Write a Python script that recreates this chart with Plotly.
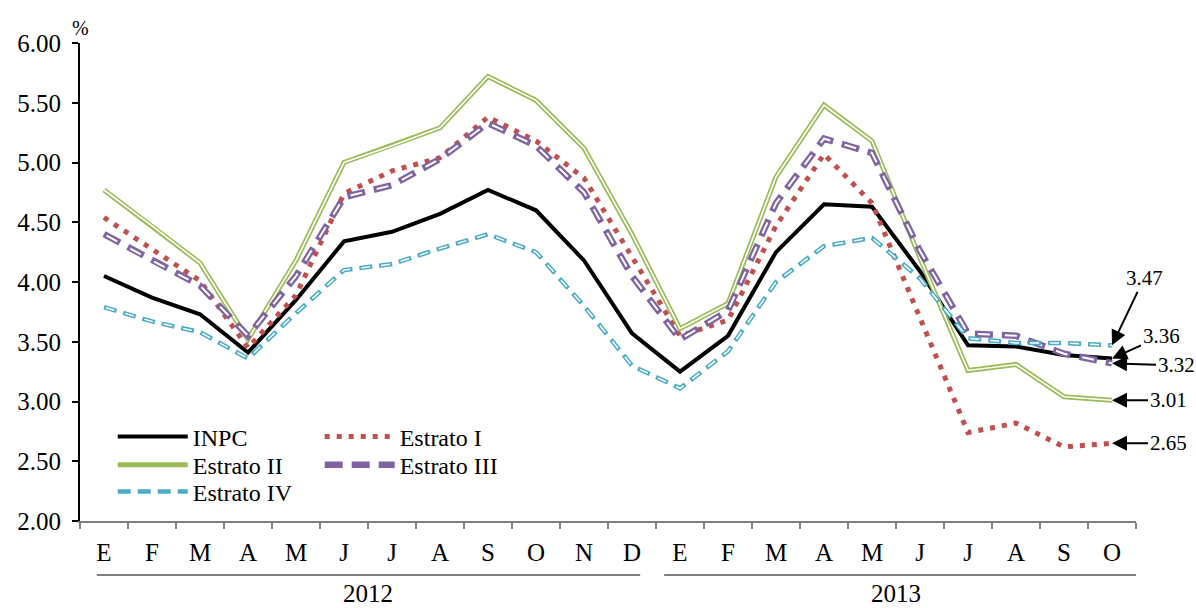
import plotly.graph_objects as go

# Monthly labels, Jan 2012 - Oct 2013
months = ["E", "F", "M", "A", "M", "J", "J", "A", "S", "O", "N", "D",
          "E", "F", "M", "A", "M", "J", "J", "A", "S", "O"]
years = ["2012", "2013"]

# Annual inflation (%) by series
inpc = [4.05, 3.87, 3.73, 3.41, 3.85, 4.34, 4.42, 4.57, 4.77, 4.60, 4.18, 3.57,
        3.25, 3.55, 4.25, 4.65, 4.63, 4.09, 3.47, 3.46, 3.39, 3.36]
estrato_1 = [4.54, 4.28, 4.01, 3.45, 3.89, 4.74, 4.93, 5.04, 5.38, 5.18, 4.87, 4.21,
             3.55, 3.68, 4.47, 5.07, 4.66, 3.70, 2.74, 2.82, 2.62, 2.65]
estrato_2 = [4.77, 4.47, 4.16, 3.52, 4.18, 5.00, 5.14, 5.29, 5.72, 5.52, 5.12, 4.40,
             3.61, 3.82, 4.88, 5.48, 5.18, 4.20, 3.26, 3.31, 3.04, 3.01]
estrato_3 = [4.40, 4.18, 3.97, 3.55, 4.05, 4.71, 4.81, 5.03, 5.33, 5.14, 4.75, 4.05,
             3.52, 3.76, 4.66, 5.20, 5.08, 4.26, 3.57, 3.55, 3.40, 3.32]
estrato_4 = [3.79, 3.67, 3.58, 3.36, 3.74, 4.10, 4.15, 4.28, 4.40, 4.25, 3.80, 3.30,
             3.11, 3.42, 4.00, 4.30, 4.37, 4.03, 3.53, 3.49, 3.49, 3.47]

# Final-value callouts: (value, x offset px, y offset px)
end_labels = [(3.47, 32, -67), (3.36, 49, -22), (3.32, 64, 2), (3.01, 56, 0), (2.65, 56, 0)]

FONT = "Liberation Serif, Times New Roman, serif"
x = list(range(len(months)))

fig = go.Figure()

# INPC: solid black
fig.add_trace(go.Scatter(x=x, y=inpc, mode="lines", name="INPC",
                         line=dict(color="black", width=4), legend="legend"))
# Estrato I: red dots
fig.add_trace(go.Scatter(x=x, y=estrato_1, mode="lines", name="Estrato I",
                         line=dict(color="#C0504D", width=5, dash="5px,7px"),
                         legend="legend2"))
# Estrato II: green double line (colored stroke with white core)
fig.add_trace(go.Scatter(x=x, y=estrato_2, mode="lines", name="Estrato II",
                         line=dict(color="#9BBB59", width=5), legend="legend3"))
fig.add_trace(go.Scatter(x=x, y=estrato_2, mode="lines", showlegend=False,
                         hoverinfo="skip", line=dict(color="white", width=1.6)))
# Estrato III: purple hollow dashes
fig.add_trace(go.Scatter(x=x, y=estrato_3, mode="lines", name="Estrato III",
                         line=dict(color="#8064A2", width=6.5, dash="18px,9px"),
                         legend="legend4"))
fig.add_trace(go.Scatter(x=x, y=estrato_3, mode="lines", showlegend=False,
                         hoverinfo="skip",
                         line=dict(color="white", width=2, dash="0px,3px,12px,12px")))
# Estrato IV: cyan hollow dashes
fig.add_trace(go.Scatter(x=x, y=estrato_4, mode="lines", name="Estrato IV",
                         line=dict(color="#4BACC6", width=4.5, dash="13px,7px"),
                         legend="legend5"))
fig.add_trace(go.Scatter(x=x, y=estrato_4, mode="lines", showlegend=False,
                         hoverinfo="skip",
                         line=dict(color="white", width=1.5, dash="0px,2px,9px,9px")))

annotations = []
for val, ax, ay in end_labels:
    annotations.append(dict(x=x[-1], y=val, xref="x", yref="y", text=f"{val:.2f}",
                            showarrow=True, ax=ax, ay=ay, arrowhead=2, arrowsize=1.5,
                            arrowwidth=2, arrowcolor="black", standoff=0,
                            font=dict(family=FONT, size=21, color="black")))
# percent unit above the value axis
annotations.append(dict(x=0, y=1.0, xref="paper", yref="paper", text="%",
                        showarrow=False, xanchor="center", yanchor="bottom", yshift=2,
                        font=dict(family=FONT, size=20, color="black")))
# year labels under month groups
n2012 = 12
annotations.append(dict(x=(n2012 - 1) / 2, y=-0.152, xref="x", yref="paper", text=years[0],
                        showarrow=False, yanchor="middle",
                        font=dict(family=FONT, size=25, color="black")))
annotations.append(dict(x=n2012 + (len(months) - n2012 - 1) / 2, y=-0.152, xref="x",
                        yref="paper", text=years[1], showarrow=False, yanchor="middle",
                        font=dict(family=FONT, size=25, color="black")))

shapes = [
    dict(type="line", xref="x", yref="paper", x0=-0.15, x1=11.17, y0=-0.113, y1=-0.113,
         line=dict(color="black", width=1)),
    dict(type="line", xref="x", yref="paper", x0=11.67, x1=21.54, y0=-0.113, y1=-0.113,
         line=dict(color="black", width=1)),
]

# legend rows placed individually: (legend id, left x in paper, row center y in paper)
legend_spots = {"legend": (0.031, 0.176), "legend2": (0.227, 0.176),
                "legend3": (0.031, 0.117), "legend4": (0.227, 0.117),
                "legend5": (0.031, 0.061)}
legend_layout = {}
for key, (lx, ly) in legend_spots.items():
    legend_layout[key] = dict(x=lx, y=ly, xanchor="left", yanchor="middle",
                              bgcolor="rgba(0,0,0,0)", itemwidth=70,
                              font=dict(family=FONT, size=24))

fig.update_layout(
    width=1196, height=608,
    margin=dict(l=80, r=60, t=43, b=87),
    paper_bgcolor="white", plot_bgcolor="white",
    font=dict(family=FONT, size=25, color="black"),
    annotations=annotations,
    shapes=shapes,
    **legend_layout,
)

fig.update_xaxes(
    range=[-0.5, len(months) - 0.5],
    tickmode="array", tickvals=x, ticktext=months,
    ticks="outside", ticklen=8, tickcolor="rgba(0,0,0,0)",
    minor=dict(tickmode="array", tickvals=[i - 0.5 for i in range(len(months) + 1)],
               ticks="outside", ticklen=6, tickwidth=2, tickcolor="#808080"),
    showline=True, linecolor="#808080", linewidth=2,
    showgrid=False, zeroline=False,
    tickfont=dict(family=FONT, size=25),
)
fig.update_yaxes(
    range=[2, 6], tickmode="linear", tick0=2, dtick=0.5, tickformat=".2f",
    ticks="outside", ticklen=6, tickwidth=2, tickcolor="black",
    ticklabelstandoff=6,
    showline=True, linecolor="black", linewidth=2,
    showgrid=False, zeroline=False,
    tickfont=dict(family=FONT, size=25),
)

fig.write_html("out.html")
